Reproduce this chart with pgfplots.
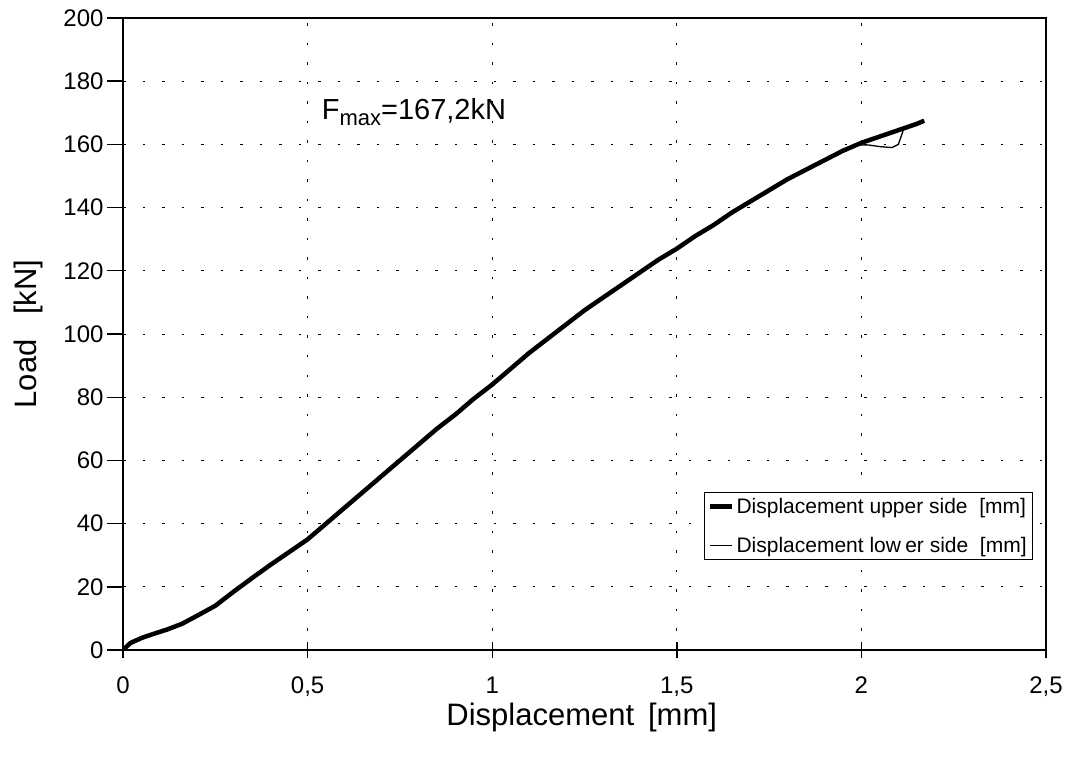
\documentclass[border=0pt]{standalone}
\usepackage{pgfplots}
\pgfplotsset{compat=1.18}
\usepackage{fontspec}
\setmainfont{Liberation Sans}
\pgfplotstableread{
x y
0 0
0.02 2.2
0.05 3.8
0.08 5
0.12 6.5
0.16 8.3
0.2 10.8
0.25 14
0.3 18.5
0.35 22.8
0.4 27
0.45 31
0.5 35
0.55 40
0.6 45
0.65 50
0.7 55
0.75 60
0.8 65
0.85 70
0.9 74.5
0.95 79.5
1.0 84
1.05 89
1.1 94
1.15 98.5
1.2 103
1.25 107.5
1.3 111.5
1.35 115.5
1.4 119.5
1.45 123.5
1.5 127
1.55 131
1.6 134.5
1.65 138.5
1.7 142
1.75 145.5
1.8 149
1.85 152
1.9 155
1.95 158
2.0 160.5
2.05 162.5
2.1 164.5
2.15 166.5
2.17 167.5
}\upperdata
\pgfplotstableread{
x y
0 0
0.02 2.2
0.05 3.8
0.08 5
0.12 6.5
0.16 8.3
0.2 10.8
0.25 14
0.3 18.5
0.35 22.8
0.4 27
0.45 31
0.5 35
0.55 40
0.6 45
0.65 50
0.7 55
0.75 60
0.8 65
0.85 70
0.9 74.5
0.95 79.5
1.0 84
1.05 89
1.1 94
1.15 98.5
1.2 103
1.25 107.5
1.3 111.5
1.35 115.5
1.4 119.5
1.45 123.5
1.5 127
1.55 131
1.6 134.5
1.65 138.5
1.7 142
1.75 145.5
1.8 149
1.85 152
1.9 155
1.95 158
1.98 159.8
2.02 159.8
2.05 159.3
2.083 159
2.1 160
2.115 165
2.14 166.5
2.17 167.5
}\lowerdata
\begin{document}
\begin{tikzpicture}
\begin{axis}[
  scale only axis, width=923pt, height=632pt,
  xmin=0, xmax=2.5, ymin=0, ymax=200,
  xtick={0,0.5,1,1.5,2,2.5}, xticklabels={0,{0,5},1,{1,5},2,{2,5}},
  ytick={0,20,...,200},
  xtick pos=bottom, ytick pos=left,
  tick align=center, major tick length=16pt,
  tick style={black, line width=1.4pt},
  every y tick/.style={xshift=-8pt},
  axis line style={line width=1.5pt},
  grid=major,
  major grid style={black, line width=1pt, dash pattern=on 2.5pt off 17pt},
  /pgf/number format/assume math mode=true,
  ticklabel style={font=\fontsize{24}{24}\selectfont},
  xticklabel style={yshift=-15pt},
  yticklabel style={xshift=-8pt},
  xlabel={Displacement\hspace{0.45em}[mm]},
  ylabel={Load\hspace{0.8em}[kN]},
  label style={font=\fontsize{31}{31}\selectfont},
  xlabel style={at={(axis description cs:0.497,-0.106)}, anchor=center},
  ylabel style={at={(axis description cs:-0.102,0.5)}, anchor=center},
  legend style={at={(axis cs:2.465,28.5)}, anchor=south east, draw=black, line width=0.8pt,
    font=\fontsize{21}{21}\selectfont, row sep=18pt, inner sep=4pt},
  legend cell align=left,
  legend image code/.code={\draw[#1] (0pt,0pt) -- (22pt,0pt);},
]
\addplot[black, line width=4.5pt, line join=round] table[x=x,y=y] {\upperdata};
\addlegendentry{Displacement upper side\ \ [mm]}
\addplot[black, line width=1.3pt, line join=round] table[x=x,y=y] {\lowerdata};
\addlegendentry{Displacement low\hspace{0.2em}er side\ \ [mm]}
\node[anchor=base west, inner sep=0pt, font=\fontsize{29}{29}\selectfont] at (axis cs:0.538,168) {F\raisebox{-0.22em}{\fontsize{22}{22}\selectfont max}=167,2kN};
\end{axis}
\path ([shift={(-123pt,-110pt)}]current axis.south west) rectangle ([shift={(31pt,18pt)}]current axis.north east);
\end{tikzpicture}
\end{document}
